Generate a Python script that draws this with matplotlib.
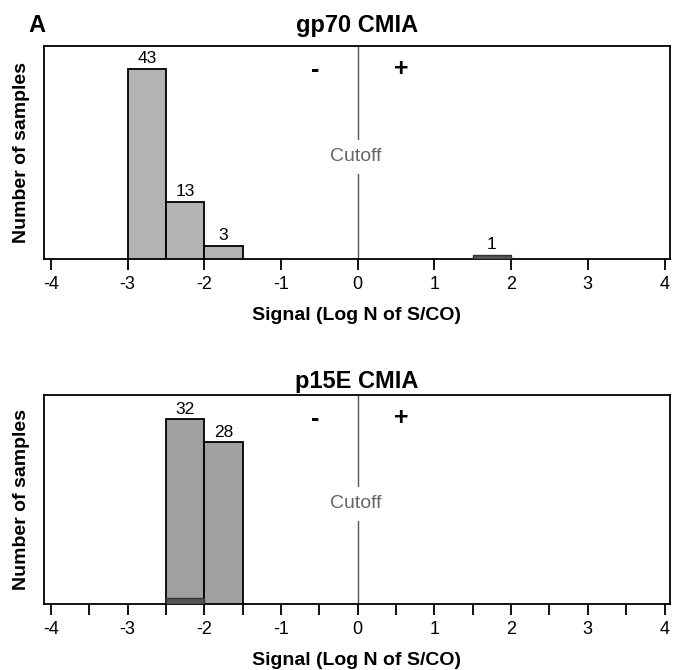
import matplotlib.pyplot as plt
from matplotlib.ticker import MultipleLocator

plt.rcParams['font.family'] = ['Liberation Sans', 'DejaVu Sans']

# gp70 CMIA histogram (bin left edges, counts)
gp70_edges = [-3.0, -2.5, -2.0]
gp70_counts = [43, 13, 3]
gp70_pos_edges = [1.5]
gp70_pos_counts = [1]

# p15E CMIA histogram
p15e_edges = [-2.5, -2.0]
p15e_counts = [32, 28]
p15e_dark_edges = [-2.5]
p15e_dark_counts = [1]

bin_w = 0.5
xticks = [-4, -3, -2, -1, 0, 1, 2, 3, 4]


def panel(ax, title, edges, counts, color, ymax, extra_edges, extra_counts, minor, tpad):
    ax.bar(edges, counts, width=bin_w, align='edge', color=color,
           edgecolor='black', linewidth=1.3, zorder=3)
    if extra_edges:
        ax.bar(extra_edges, extra_counts, width=bin_w, align='edge', color='#555555',
               edgecolor='#333333', linewidth=1.0, zorder=4)
    for e, c in zip(edges, counts):
        ax.text(e + bin_w / 2, c + ymax * 0.012, str(c), ha='center', va='bottom', fontsize=12.5)
    if title.startswith('gp70'):
        for e, c in zip(extra_edges, extra_counts):
            ax.text(e + bin_w / 2, c + ymax * 0.012, str(c), ha='center', va='bottom', fontsize=12.5)
    ax.axvline(0, color='#555555', linewidth=1.0, zorder=1)
    ax.text(-0.02, ymax * 0.48, 'Cutoff', ha='center', va='center', fontsize=14,
            color='#666666', bbox=dict(facecolor='white', edgecolor='none', pad=6), zorder=2)
    ax.text(-0.55, ymax * 0.885, '-', ha='center', va='center', fontsize=18, fontweight='bold')
    ax.text(0.57, ymax * 0.89, '+', ha='center', va='center', fontsize=18, fontweight='bold')
    ax.set_xlim(-4.09, 4.07)
    ax.set_ylim(0, ymax)
    ax.set_xticks(xticks)
    ax.set_xticklabels([str(t) for t in xticks], fontsize=13)
    if minor:
        ax.xaxis.set_minor_locator(MultipleLocator(0.5))
        ax.tick_params(axis='x', which='minor', length=8, width=1.3)
    ax.tick_params(axis='x', which='major', length=8, width=1.3, pad=4)
    ax.set_yticks([])
    for s in ax.spines.values():
        s.set_linewidth(1.3)
    ax.set_title(title, fontsize=17, fontweight='bold', pad=tpad)
    ax.set_xlabel('Signal (Log N of S/CO)', fontsize=14, fontweight='bold', labelpad=10)
    ax.set_ylabel('Number of samples', fontsize=14, fontweight='bold', labelpad=10)


fig = plt.figure(figsize=(6.73, 6.70), dpi=100)
ax1 = fig.add_axes([0.0654, 0.6134, 0.930, 0.318])
ax2 = fig.add_axes([0.0654, 0.0985, 0.930, 0.312])

panel(ax1, 'gp70 CMIA', gp70_edges, gp70_counts, '#b3b3b3', 48.2,
      gp70_pos_edges, gp70_pos_counts, False, 10)
panel(ax2, 'p15E CMIA', p15e_edges, p15e_counts, '#a0a0a0', 36.2,
      p15e_dark_edges, p15e_dark_counts, True, 5)

fig.text(0.042, 0.962, 'A', fontsize=17, fontweight='bold', va='center')

fig.savefig('out.png', dpi=100)
